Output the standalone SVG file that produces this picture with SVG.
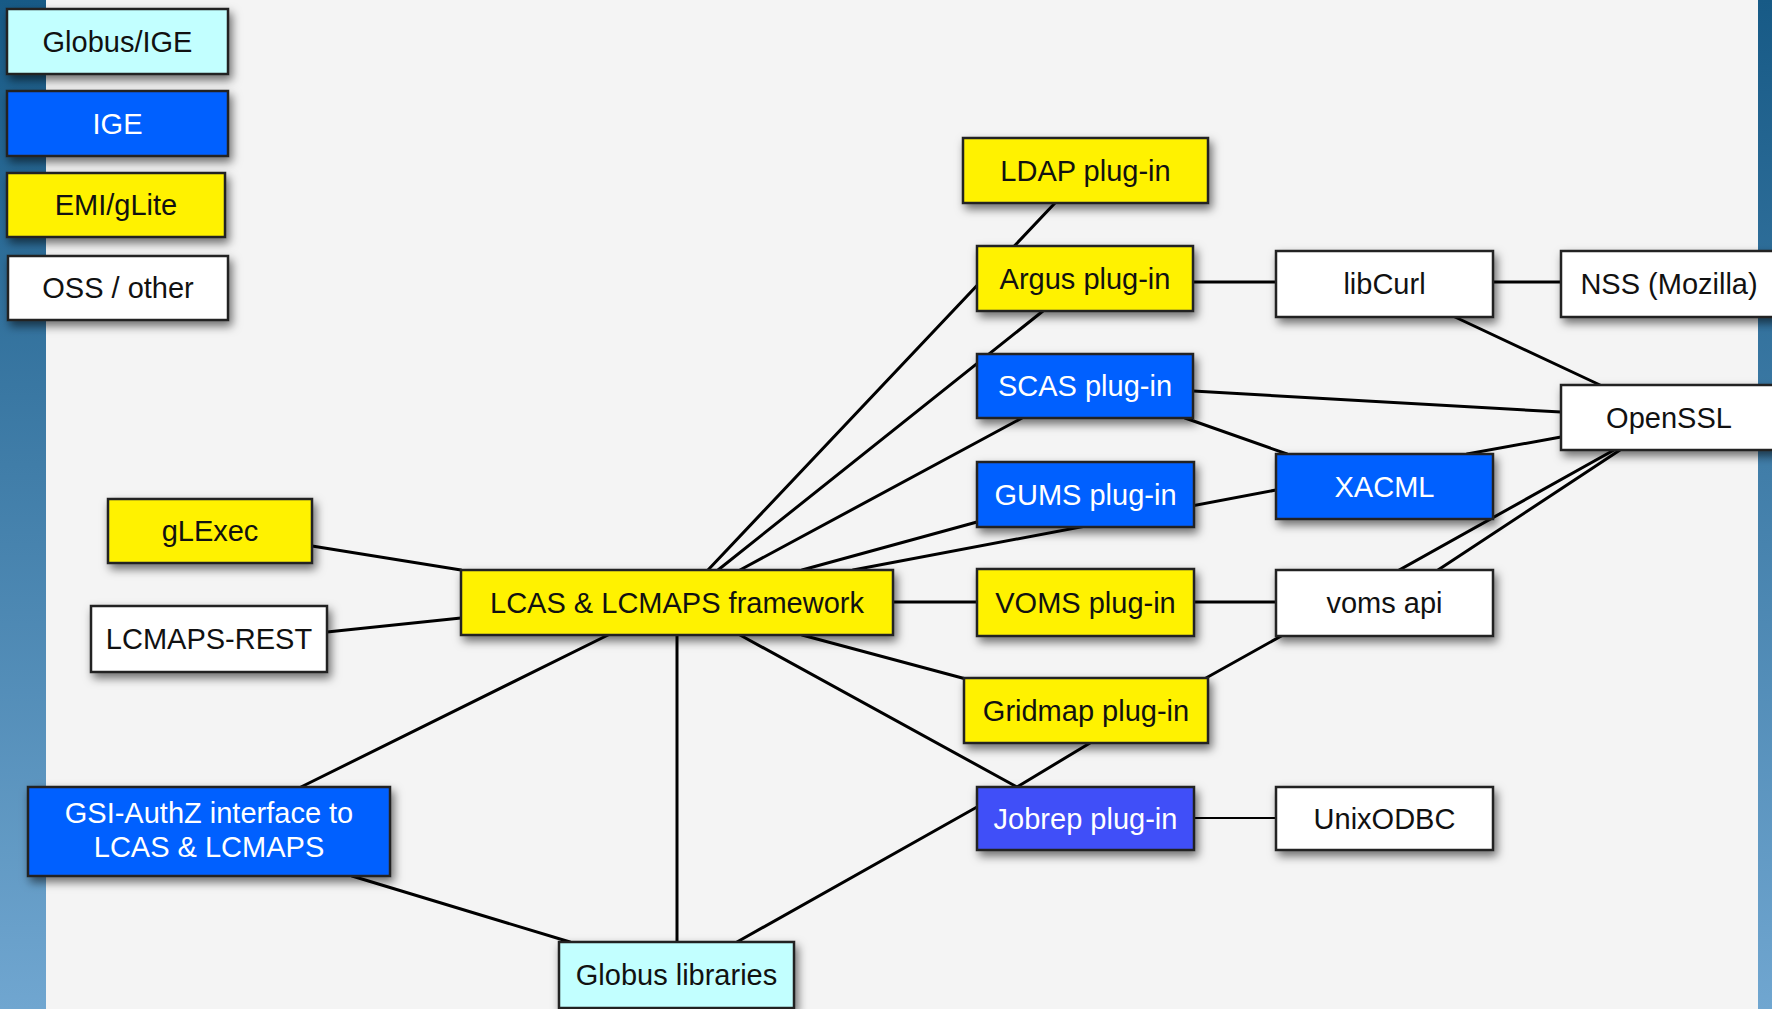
<svg xmlns="http://www.w3.org/2000/svg" width="1772" height="1009" viewBox="0 0 1772 1009">
<defs>
<linearGradient id="strip" x1="0" y1="0" x2="0" y2="1">
<stop offset="0" stop-color="#175a86"/>
<stop offset="1" stop-color="#70a6d0"/>
</linearGradient>
<filter id="sh" x="-20%" y="-30%" width="140%" height="170%">
<feDropShadow dx="3" dy="5" stdDeviation="5" flood-color="#000" flood-opacity="0.55"/>
</filter>
<style>
.box{stroke:#222;stroke-width:2.5;filter:url(#sh)}
.cyan{fill:#c2ffff}
.blue{fill:#0061ff}
.jb{fill:#3f50f8}
.yel{fill:#fff200}
.wht{fill:#ffffff}
text{font-family:"Liberation Sans",Arial,Helvetica,sans-serif;font-size:29px;text-anchor:middle}
.dk{fill:#111}
.lt{fill:#ffffff}
.ln{stroke:#000;stroke-width:3;fill:none;stroke-linecap:round}
.thin{stroke-width:2}
</style>
</defs>
<rect x="0" y="0" width="1772" height="1009" fill="#f4f4f4"/>
<rect x="0" y="0" width="46" height="1009" fill="url(#strip)"/>
<rect x="1758" y="0" width="14" height="1009" fill="url(#strip)"/>

<g id="connectors">
<line class="ln" x1="1055" y1="203" x2="708" y2="570"/>
<line class="ln" x1="1043" y1="311" x2="718" y2="570"/>
<line class="ln" x1="1022" y1="418" x2="740" y2="570"/>
<line class="ln" x1="977" y1="522" x2="802" y2="570"/>
<line class="ln" x1="1276" y1="490" x2="853" y2="570"/>
<line class="ln" x1="893" y1="602" x2="977" y2="602"/>
<line class="ln" x1="1194" y1="602" x2="1276" y2="602"/>
<line class="ln" x1="740" y1="635" x2="1017" y2="787"/>
<line class="ln" x1="802" y1="635" x2="966" y2="679"/>
<line class="ln" x1="1090" y1="743" x2="1017" y2="787"/>
<line class="ln" x1="1206" y1="678" x2="1614" y2="450"/>
<line class="ln" x1="1438" y1="570" x2="1620" y2="450"/>
<line class="ln thin" x1="1194" y1="818" x2="1276" y2="818"/>
<line class="ln" x1="977" y1="807" x2="737" y2="942"/>
<line class="ln" x1="677" y1="635" x2="677" y2="942"/>
<line class="ln" x1="608" y1="635" x2="301" y2="787"/>
<line class="ln" x1="352" y1="876" x2="570" y2="942"/>
<line class="ln" x1="312" y1="546" x2="461" y2="570"/>
<line class="ln" x1="327" y1="632" x2="461" y2="618"/>
<line class="ln" x1="1193" y1="282" x2="1276" y2="282"/>
<line class="ln" x1="1493" y1="282" x2="1561" y2="282"/>
<line class="ln" x1="1455" y1="317" x2="1600" y2="385"/>
<line class="ln" x1="1193" y1="391" x2="1561" y2="412"/>
<line class="ln" x1="1185" y1="418" x2="1287" y2="454"/>
<line class="ln" x1="1467" y1="454" x2="1561" y2="437"/>
</g>

<g id="legend-globus"><rect class="box cyan" x="7" y="9" width="221" height="65"/><text class="dk" x="117.5" y="51.5">Globus/IGE</text></g>
<g id="legend-ige"><rect class="box blue" x="7" y="91" width="221" height="65"/><text class="lt" x="117.5" y="133.5">IGE</text></g>
<g id="legend-emi"><rect class="box yel" x="7" y="173" width="218" height="64"/><text class="dk" x="116" y="215">EMI/gLite</text></g>
<g id="legend-oss"><rect class="box wht" x="8" y="256" width="220" height="64"/><text class="dk" x="118" y="298">OSS / other</text></g>

<g id="ldap"><rect class="box yel" x="963" y="138" width="245" height="65"/><text class="dk" x="1085.5" y="180.5">LDAP plug-in</text></g>
<g id="argus"><rect class="box yel" x="977" y="246" width="216" height="65"/><text class="dk" x="1085" y="288.5">Argus plug-in</text></g>
<g id="scas"><rect class="box blue" x="977" y="354" width="216" height="64"/><text class="lt" x="1085" y="396">SCAS plug-in</text></g>
<g id="gums"><rect class="box blue" x="977" y="462" width="217" height="65"/><text class="lt" x="1085.5" y="504.5">GUMS plug-in</text></g>
<g id="voms"><rect class="box yel" x="977" y="569" width="217" height="67"/><text class="dk" x="1085.5" y="612.5">VOMS plug-in</text></g>
<g id="gridmap"><rect class="box yel" x="964" y="678" width="244" height="65"/><text class="dk" x="1086" y="720.5">Gridmap plug-in</text></g>
<g id="jobrep"><rect class="box jb" x="977" y="787" width="217" height="63"/><text class="lt" x="1085.5" y="828.5">Jobrep plug-in</text></g>
<g id="libcurl"><rect class="box wht" x="1276" y="251" width="217" height="66"/><text class="dk" x="1384.5" y="294">libCurl</text></g>
<g id="nss"><rect class="box wht" x="1561" y="251" width="216" height="66"/><text class="dk" x="1669" y="294">NSS (Mozilla)</text></g>
<g id="openssl"><rect class="box wht" x="1561" y="385" width="216" height="65"/><text class="dk" x="1669" y="427.5">OpenSSL</text></g>
<g id="xacml"><rect class="box blue" x="1276" y="454" width="217" height="65"/><text class="lt" x="1384.5" y="496.5">XACML</text></g>
<g id="vomsapi"><rect class="box wht" x="1276" y="570" width="217" height="66"/><text class="dk" x="1384.5" y="613">voms api</text></g>
<g id="unixodbc"><rect class="box wht" x="1276" y="787" width="217" height="63"/><text class="dk" x="1384.5" y="828.5">UnixODBC</text></g>
<g id="lcas"><rect class="box yel" x="461" y="570" width="432" height="65"/><text class="dk" x="677" y="612.5">LCAS &amp; LCMAPS framework</text></g>
<g id="glexec"><rect class="box yel" x="108" y="499" width="204" height="64"/><text class="dk" x="210" y="541">gLExec</text></g>
<g id="lcmapsrest"><rect class="box wht" x="91" y="606" width="236" height="66"/><text class="dk" x="209" y="649">LCMAPS-REST</text></g>
<g id="gsi"><rect class="box blue" x="28" y="787" width="362" height="89"/><text class="lt" x="209" y="823">GSI-AuthZ interface to</text><text class="lt" x="209" y="857">LCAS &amp; LCMAPS</text></g>
<g id="globuslibs"><rect class="box cyan" x="559" y="942" width="235" height="66"/><text class="dk" x="676.5" y="985">Globus libraries</text></g>
</svg>
